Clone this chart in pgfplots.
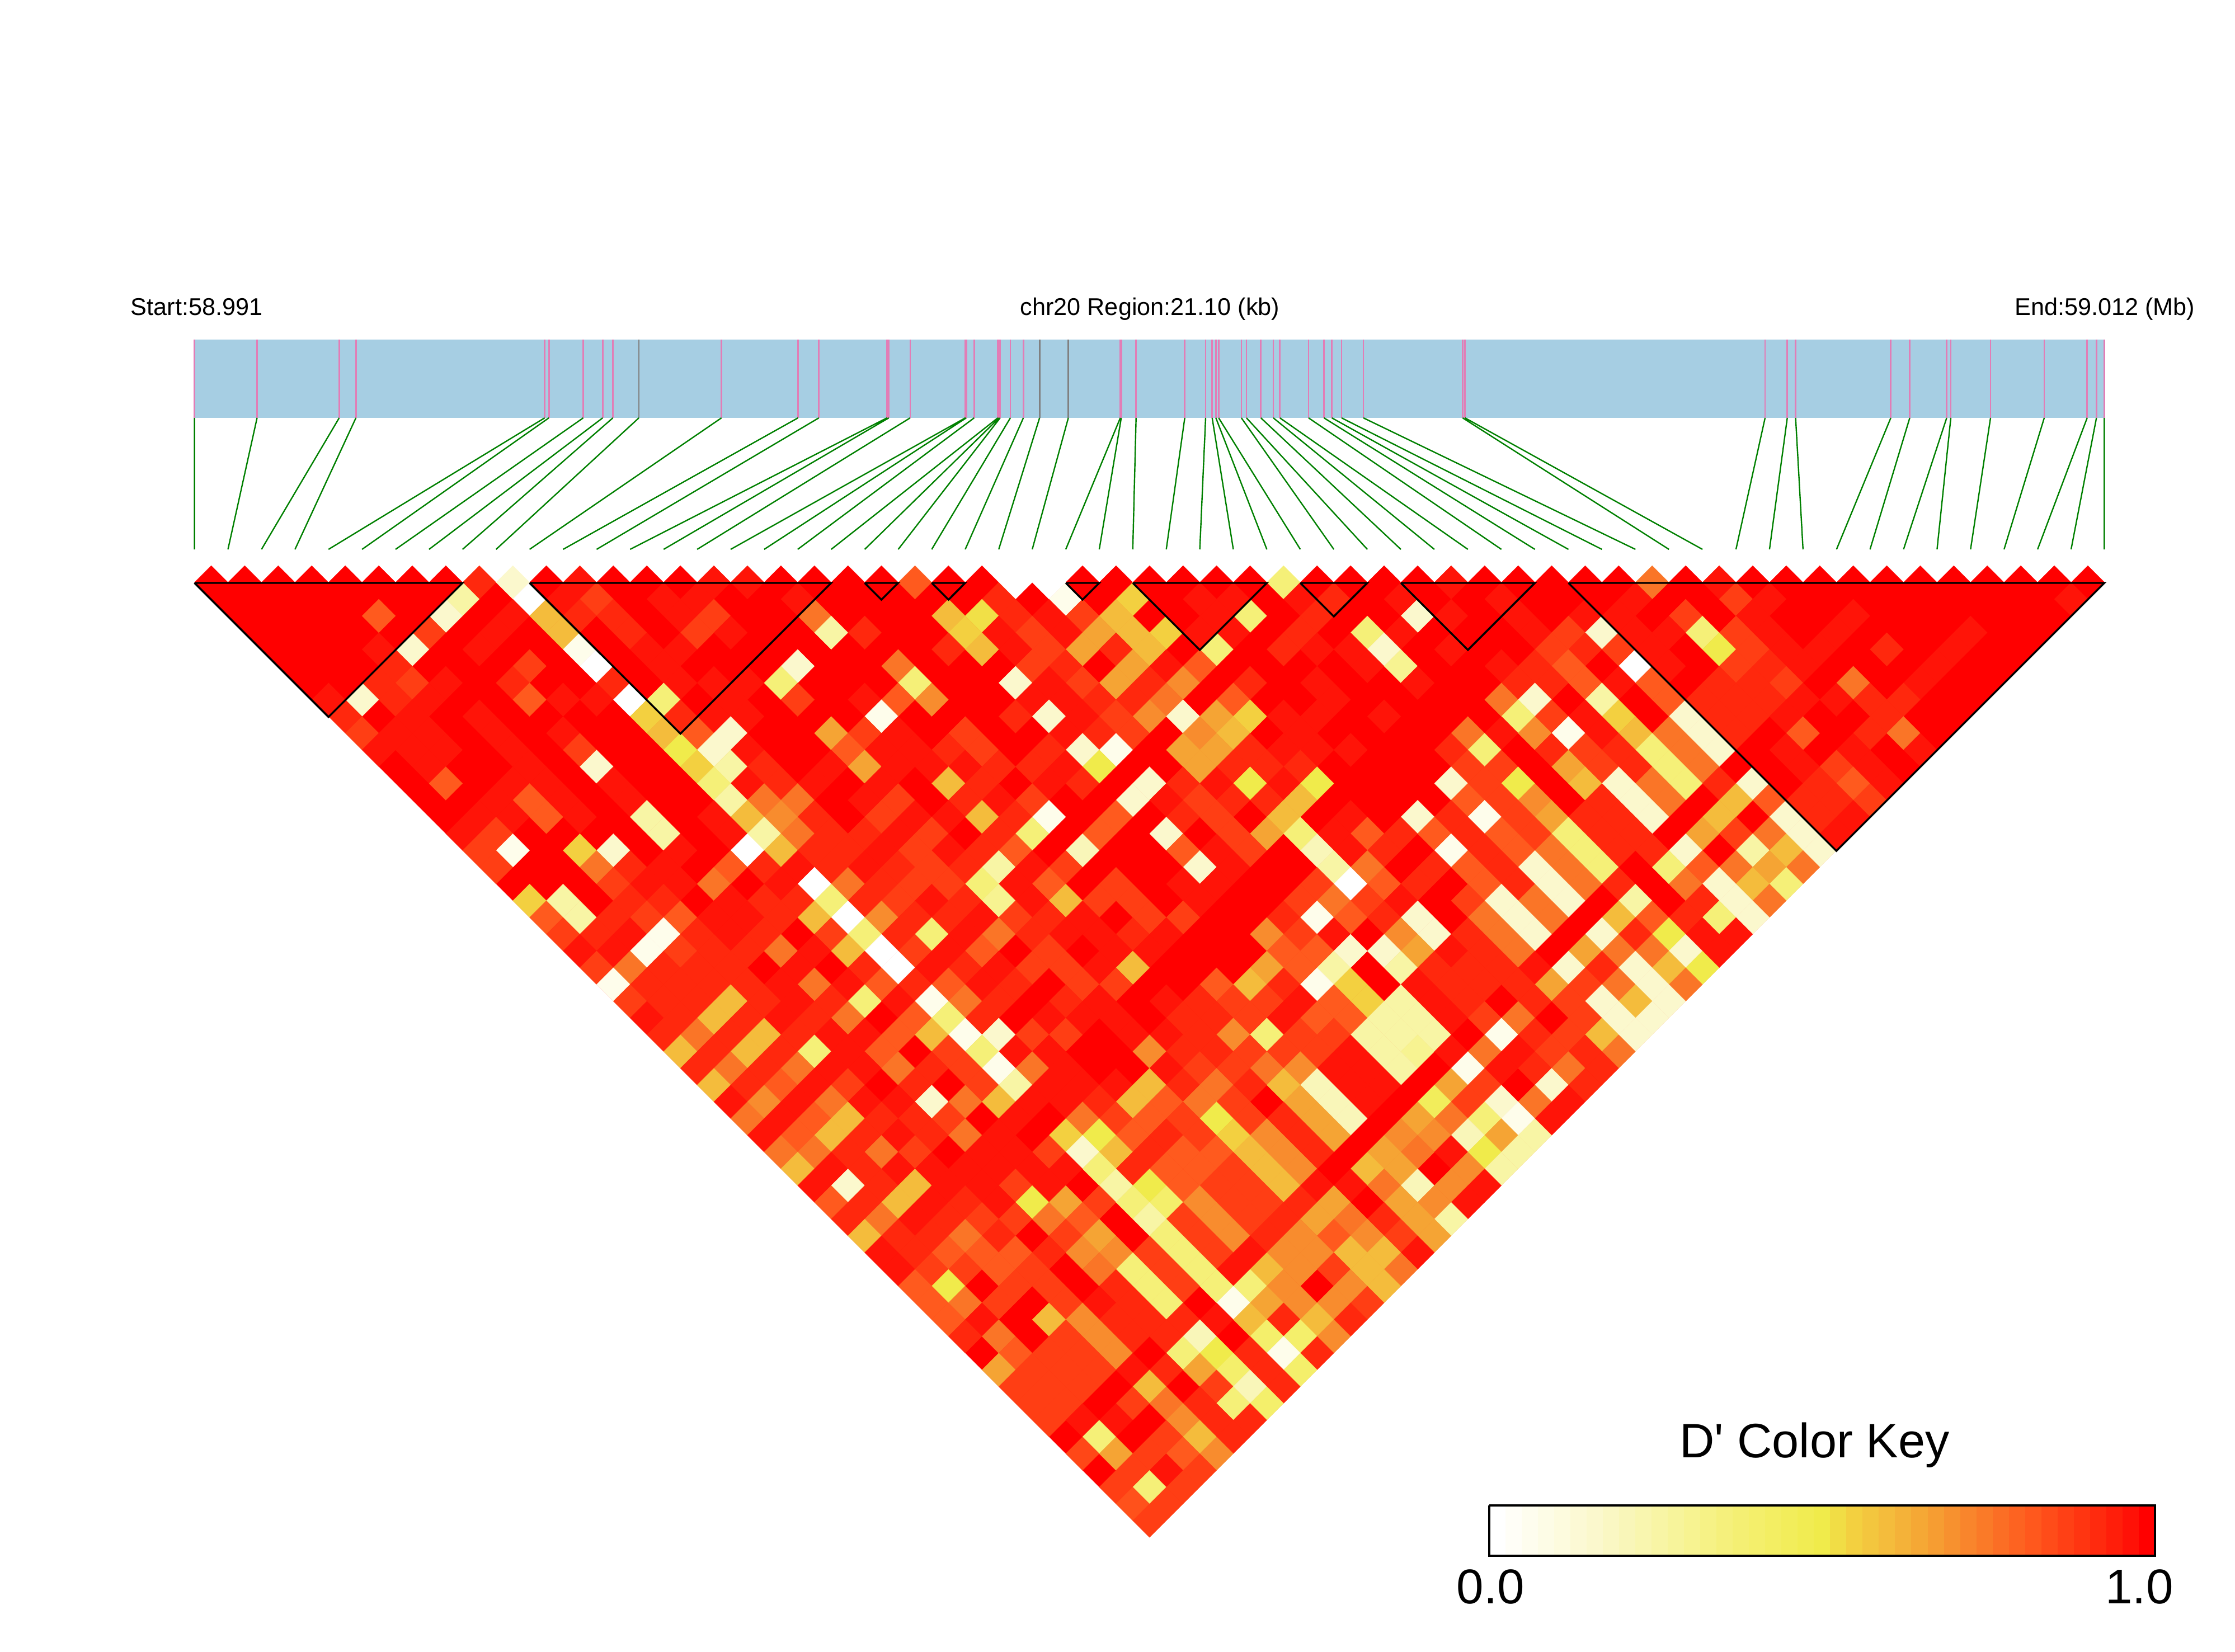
\documentclass[border=0pt]{standalone}
\usepackage{fontspec}
\setmainfont{Liberation Sans}
\usepackage{pgfplots}
\usepackage{pgfplotstable}
\pgfplotsset{compat=1.18}

\definecolor{genebar}{RGB}{166,206,227}
\definecolor{snptick}{RGB}{226,125,182}
\definecolor{snpgrey}{RGB}{128,128,128}
\definecolor{snpline}{RGB}{0,128,0}

% one picture pixel = 0.25pt, cell half diagonal 29.95 px
\pgfdeclareplotmark{ldcell}{%
  \pgfpathmoveto{\pgfqpoint{0pt}{7.49pt}}%
  \pgfpathlineto{\pgfqpoint{7.49pt}{0pt}}%
  \pgfpathlineto{\pgfqpoint{0pt}{-7.49pt}}%
  \pgfpathlineto{\pgfqpoint{-7.49pt}{0pt}}%
  \pgfpathclose\pgfusepathqfillstroke}
\pgfdeclareplotmark{keycell}{%
  \pgfpathrectanglecorners{\pgfqpoint{-3.65pt}{-11.25pt}}{\pgfqpoint{3.65pt}{11.25pt}}%
  \pgfusepathqfill}

% k = i+j of the SNP pair, r = j-i-1, v = D' in percent; cells left out are 100
\pgfplotstableread[row sep=\\]{
k r v\\
1 0 100\\ 3 0 100\\ 5 0 100\\ 7 0 100\\ 9 0 100\\ 11 0 100\\ 13 0 100\\ 15 0 100\\ 17 0 93\\ 19 0 15\\ 21 0 100\\ 23 0 97\\ 25 0 100\\ 27 0 100\\ 29 0 100\\ 31 0 97\\ 33 0 97\\ 35 0 100\\ 37 0 100\\ 39 0 100\\ 41 0 100\\ 43 0 82\\ 45 0 100\\ 47 0 100\\ 49 0 0\\ 51 0 0\\ 53 0 100\\ 55 0 100\\ 57 0 100\\ 59 0 100\\ 61 0 100\\ 63 0 100\\ 65 0 36\\ 67 0 100\\ 69 0 100\\ 71 0 100\\ 73 0 100\\ 75 0 97\\ 77 0 100\\ 79 0 100\\ 81 0 100\\ 83 0 100\\ 85 0 100\\ 87 0 76\\ 89 0 100\\ 91 0 97\\ 93 0 100\\ 95 0 100\\ 97 0 100\\ 99 0 100\\ 101 0 100\\ 103 0 100\\ 105 0 100\\ 107 0 100\\ 109 0 100\\ 111 0 100\\ 113 0 100\\
16 1 25\\ 20 1 0\\ 22 1 97\\ 24 1 88\\ 28 1 97\\ 30 1 97\\ 36 1 97\\ 48 1 93\\ 52 1 6\\ 56 1 55\\ 60 1 97\\ 62 1 97\\ 66 1 97\\ 68 1 93\\ 72 1 97\\ 78 1 97\\ 86 1 97\\ 92 1 88\\ 94 1 97\\ 112 1 97\\
11 2 82\\ 15 2 15\\ 19 2 97\\ 21 2 60\\ 23 2 93\\ 25 2 93\\ 29 2 97\\ 31 2 88\\ 37 2 76\\ 45 2 60\\ 47 2 52\\ 49 2 93\\ 51 2 97\\ 53 2 88\\ 55 2 60\\ 61 2 97\\ 63 2 36\\ 67 2 93\\ 73 2 15\\ 75 2 97\\ 79 2 97\\ 83 2 97\\ 85 2 97\\ 89 2 88\\ 93 2 97\\ 99 2 97\\
14 3 88\\ 18 3 97\\ 22 3 60\\ 26 3 93\\ 30 3 88\\ 32 3 97\\ 38 3 25\\ 40 3 93\\ 46 3 55\\ 48 3 97\\ 50 3 88\\ 52 3 97\\ 54 3 66\\ 56 3 60\\ 58 3 55\\ 60 3 97\\ 62 3 97\\ 66 3 93\\ 70 3 36\\ 72 3 97\\ 80 3 97\\ 82 3 88\\ 84 3 15\\ 86 3 97\\ 88 3 97\\ 90 3 36\\ 92 3 88\\ 94 3 97\\ 98 3 97\\ 106 3 97\\
11 4 97\\ 13 4 15\\ 17 4 97\\ 23 4 6\\ 27 4 97\\ 29 4 97\\ 45 4 93\\ 47 4 60\\ 49 4 97\\ 51 4 88\\ 53 4 66\\ 55 4 93\\ 57 4 60\\ 61 4 36\\ 65 4 93\\ 67 4 97\\ 69 4 97\\ 71 4 15\\ 75 4 97\\ 81 4 88\\ 83 4 93\\ 85 4 88\\ 87 4 97\\ 91 4 50\\ 93 4 88\\ 95 4 97\\ 97 4 97\\ 101 4 93\\ 105 4 97\\
12 5 93\\ 20 5 88\\ 24 5 0\\ 28 5 97\\ 36 5 15\\ 42 5 76\\ 50 5 88\\ 52 5 93\\ 56 5 66\\ 58 5 97\\ 60 5 82\\ 70 5 97\\ 72 5 30\\ 78 5 97\\ 80 5 93\\ 82 5 82\\ 86 5 0\\ 88 5 97\\ 92 5 88\\ 94 5 93\\ 96 5 97\\ 104 5 97\\
11 6 93\\ 13 6 88\\ 15 6 97\\ 19 6 93\\ 25 6 93\\ 29 6 97\\ 31 6 97\\ 33 6 97\\ 35 6 36\\ 43 6 36\\ 49 6 15\\ 51 6 97\\ 53 6 88\\ 55 6 66\\ 57 6 93\\ 59 6 71\\ 63 6 93\\ 67 6 97\\ 73 6 97\\ 79 6 93\\ 81 6 93\\ 83 6 82\\ 85 6 97\\ 87 6 82\\ 91 6 93\\ 93 6 93\\ 95 6 88\\ 99 6 76\\ 103 6 97\\
8 7 97\\ 10 7 15\\ 12 7 93\\ 14 7 97\\ 20 7 82\\ 22 7 97\\ 24 7 97\\ 26 7 0\\ 28 7 36\\ 32 7 97\\ 36 7 88\\ 40 7 97\\ 42 7 82\\ 44 7 71\\ 50 7 97\\ 52 7 97\\ 54 7 93\\ 56 7 93\\ 58 7 76\\ 62 7 82\\ 68 7 97\\ 78 7 76\\ 80 7 15\\ 84 7 25\\ 88 7 82\\ 90 7 93\\ 92 7 93\\ 94 7 93\\ 96 7 97\\ 98 7 97\\ 100 7 93\\ 102 7 93\\
9 8 93\\ 13 8 97\\ 17 8 97\\ 27 8 55\\ 29 8 93\\ 31 8 97\\ 33 8 97\\ 41 8 6\\ 49 8 93\\ 51 8 15\\ 53 8 97\\ 55 8 88\\ 57 8 71\\ 59 8 15\\ 61 8 66\\ 63 8 55\\ 65 8 97\\ 67 8 97\\ 71 8 97\\ 79 8 36\\ 81 8 88\\ 83 8 97\\ 85 8 55\\ 89 8 15\\ 91 8 93\\ 93 8 93\\ 95 8 97\\ 101 8 93\\
10 9 88\\ 12 9 97\\ 14 9 97\\ 18 9 97\\ 22 9 97\\ 28 9 60\\ 30 9 82\\ 32 9 15\\ 38 9 66\\ 40 9 88\\ 42 9 97\\ 46 9 88\\ 52 9 97\\ 54 9 93\\ 56 9 88\\ 60 9 71\\ 62 9 60\\ 66 9 97\\ 76 9 76\\ 78 9 97\\ 80 9 71\\ 82 9 6\\ 84 9 97\\ 86 9 60\\ 88 9 76\\ 90 9 15\\ 92 9 93\\ 96 9 82\\ 100 9 93\\ 102 9 76\\
11 10 97\\ 13 10 97\\ 15 10 97\\ 19 10 97\\ 23 10 88\\ 29 10 50\\ 31 10 15\\ 33 10 97\\ 39 10 82\\ 41 10 97\\ 43 10 97\\ 45 10 93\\ 47 10 88\\ 51 10 93\\ 53 10 15\\ 55 10 6\\ 59 10 66\\ 61 10 66\\ 63 10 93\\ 65 10 97\\ 67 10 97\\ 69 10 97\\ 75 10 93\\ 77 10 36\\ 81 10 93\\ 83 10 88\\ 85 10 93\\ 87 10 36\\ 89 10 76\\ 91 10 15\\ 95 10 97\\ 99 10 97\\ 103 10 97\\
14 11 97\\ 20 11 97\\ 24 11 15\\ 30 11 55\\ 32 11 25\\ 34 11 93\\ 38 11 97\\ 40 11 66\\ 42 11 97\\ 44 11 97\\ 46 11 97\\ 48 11 93\\ 50 11 93\\ 52 11 97\\ 54 11 50\\ 60 11 66\\ 62 11 93\\ 64 11 93\\ 66 11 93\\ 76 11 88\\ 78 11 88\\ 82 11 66\\ 84 11 88\\ 86 11 93\\ 88 11 36\\ 90 11 76\\ 96 11 97\\ 98 11 88\\ 100 11 97\\
15 12 82\\ 19 12 97\\ 21 12 97\\ 25 12 97\\ 31 12 36\\ 33 12 97\\ 35 12 93\\ 37 12 97\\ 41 12 97\\ 45 12 60\\ 47 12 93\\ 51 12 97\\ 53 12 93\\ 57 12 15\\ 59 12 93\\ 61 12 97\\ 63 12 50\\ 65 12 97\\ 67 12 50\\ 75 12 15\\ 77 12 88\\ 79 12 50\\ 83 12 60\\ 85 12 15\\ 87 12 76\\ 89 12 36\\ 91 12 93\\ 93 12 15\\ 97 12 93\\ 99 12 82\\ 101 12 97\\
18 13 97\\ 20 13 82\\ 22 13 97\\ 26 13 97\\ 32 13 25\\ 34 13 76\\ 36 13 76\\ 40 13 97\\ 42 13 88\\ 46 13 93\\ 48 13 97\\ 50 13 88\\ 56 13 15\\ 58 13 97\\ 60 13 88\\ 62 13 93\\ 64 13 93\\ 66 13 60\\ 76 13 82\\ 78 13 88\\ 80 13 71\\ 84 13 93\\ 86 13 15\\ 88 13 76\\ 92 13 60\\ 94 13 82\\ 96 13 93\\ 98 13 93\\ 100 13 88\\
17 14 97\\ 19 14 97\\ 21 14 82\\ 23 14 97\\ 27 14 25\\ 31 14 97\\ 33 14 60\\ 35 14 71\\ 37 14 93\\ 41 14 88\\ 43 14 97\\ 45 14 97\\ 47 14 60\\ 49 14 93\\ 51 14 6\\ 55 14 82\\ 59 14 93\\ 61 14 88\\ 65 14 60\\ 69 14 97\\ 73 14 15\\ 75 14 93\\ 77 14 6\\ 79 14 88\\ 81 14 66\\ 83 14 93\\ 85 14 93\\ 87 14 15\\ 91 14 60\\ 95 14 15\\ 97 14 93\\ 99 14 97\\
16 15 97\\ 18 15 88\\ 28 15 25\\ 32 15 97\\ 34 15 25\\ 36 15 76\\ 38 15 93\\ 40 15 93\\ 42 15 97\\ 44 15 88\\ 48 15 93\\ 50 15 36\\ 54 15 82\\ 58 15 15\\ 62 15 88\\ 64 15 66\\ 66 15 36\\ 68 15 97\\ 70 15 82\\ 72 15 93\\ 74 15 82\\ 76 15 93\\ 78 15 82\\ 80 15 88\\ 82 15 36\\ 84 15 93\\ 86 15 93\\ 90 15 66\\ 92 15 88\\ 94 15 76\\ 96 15 15\\ 98 15 97\\
17 16 88\\ 19 16 6\\ 23 16 55\\ 25 16 15\\ 29 16 97\\ 33 16 0\\ 35 16 60\\ 37 16 93\\ 39 16 93\\ 41 16 97\\ 43 16 88\\ 45 16 97\\ 47 16 93\\ 49 16 82\\ 53 16 20\\ 59 16 82\\ 61 16 97\\ 63 16 88\\ 67 16 20\\ 69 16 97\\ 71 16 93\\ 75 16 6\\ 77 16 93\\ 79 16 82\\ 81 16 76\\ 83 16 36\\ 85 16 93\\ 87 16 93\\ 89 16 15\\ 93 16 25\\ 95 16 60\\ 97 16 15\\
18 17 88\\ 24 17 76\\ 26 17 93\\ 28 17 97\\ 32 17 82\\ 34 17 93\\ 36 17 97\\ 38 17 93\\ 40 17 97\\ 42 17 93\\ 44 17 88\\ 46 17 93\\ 48 17 25\\ 50 17 97\\ 52 17 88\\ 60 17 15\\ 62 17 97\\ 68 17 25\\ 70 17 76\\ 74 17 93\\ 76 17 82\\ 78 17 93\\ 80 17 15\\ 82 17 76\\ 84 17 36\\ 88 17 36\\ 90 17 82\\ 92 17 76\\ 94 17 66\\ 96 17 76\\
25 18 88\\ 27 18 97\\ 29 18 97\\ 31 18 76\\ 35 18 97\\ 37 18 0\\ 39 18 76\\ 41 18 93\\ 43 18 88\\ 45 18 88\\ 47 18 36\\ 49 18 97\\ 51 18 82\\ 55 18 88\\ 59 18 97\\ 61 18 97\\ 67 18 88\\ 69 18 0\\ 71 18 82\\ 73 18 93\\ 77 18 82\\ 79 18 93\\ 81 18 15\\ 83 18 76\\ 85 18 93\\ 89 18 76\\ 91 18 15\\ 93 18 60\\ 95 18 36\\
20 19 55\\ 22 19 25\\ 26 19 93\\ 28 19 93\\ 32 19 97\\ 34 19 93\\ 36 19 93\\ 38 19 36\\ 40 19 93\\ 42 19 88\\ 44 19 97\\ 46 19 93\\ 48 19 30\\ 50 19 97\\ 52 19 60\\ 54 19 88\\ 56 19 88\\ 60 19 97\\ 66 19 88\\ 68 19 76\\ 70 19 88\\ 72 19 97\\ 76 19 88\\ 78 19 15\\ 80 19 76\\ 82 19 15\\ 86 19 25\\ 90 19 93\\ 92 19 15\\ 94 19 76\\
21 20 82\\ 23 20 25\\ 25 20 93\\ 27 20 88\\ 29 20 82\\ 31 20 97\\ 33 20 97\\ 35 20 93\\ 37 20 60\\ 39 20 0\\ 41 20 71\\ 43 20 93\\ 45 20 93\\ 47 20 97\\ 49 20 88\\ 51 20 93\\ 53 20 97\\ 57 20 88\\ 59 20 88\\ 65 20 93\\ 67 20 6\\ 69 20 82\\ 71 20 93\\ 73 20 15\\ 77 20 76\\ 79 20 15\\ 81 20 76\\ 85 20 60\\ 87 20 82\\ 89 20 93\\ 91 20 36\\ 93 20 15\\
22 21 88\\ 24 21 93\\ 26 21 97\\ 28 21 6\\ 30 21 93\\ 32 21 97\\ 34 21 93\\ 38 21 88\\ 40 21 36\\ 42 21 93\\ 44 21 36\\ 46 21 97\\ 48 21 76\\ 50 21 93\\ 52 21 97\\ 54 21 97\\ 56 21 93\\ 58 21 97\\ 64 21 71\\ 66 21 88\\ 68 21 97\\ 72 21 71\\ 74 21 15\\ 76 21 93\\ 78 21 76\\ 80 21 15\\ 84 21 15\\ 86 21 93\\ 88 21 50\\ 90 21 97\\ 92 21 97\\
23 22 97\\ 25 22 97\\ 27 22 6\\ 29 22 88\\ 31 22 93\\ 33 22 93\\ 35 22 76\\ 37 22 97\\ 39 22 60\\ 41 22 0\\ 43 22 88\\ 45 22 97\\ 47 22 82\\ 51 22 88\\ 55 22 97\\ 57 22 97\\ 65 22 82\\ 67 22 82\\ 69 22 15\\ 71 22 15\\ 73 22 66\\ 75 22 97\\ 77 22 93\\ 79 22 76\\ 83 22 66\\ 85 22 76\\ 87 22 76\\ 89 22 15\\ 91 22 97\\
24 23 88\\ 26 23 76\\ 28 23 93\\ 30 23 93\\ 32 23 93\\ 36 23 97\\ 40 23 93\\ 42 23 0\\ 44 23 97\\ 46 23 93\\ 48 23 97\\ 50 23 88\\ 52 23 88\\ 54 23 97\\ 56 23 60\\ 64 23 66\\ 66 23 82\\ 68 23 25\\ 72 23 25\\ 74 23 93\\ 76 23 93\\ 78 23 93\\ 80 23 97\\ 82 23 15\\ 84 23 93\\ 86 23 15\\ 88 23 60\\ 90 23 50\\
25 24 6\\ 27 24 93\\ 29 24 93\\ 31 24 93\\ 33 24 93\\ 35 24 97\\ 37 24 76\\ 39 24 97\\ 41 24 82\\ 43 24 93\\ 45 24 82\\ 47 24 97\\ 49 24 93\\ 53 24 88\\ 55 24 88\\ 61 24 82\\ 63 24 60\\ 65 24 93\\ 67 24 6\\ 69 24 55\\ 73 24 97\\ 75 24 93\\ 77 24 93\\ 79 24 93\\ 81 24 66\\ 83 24 88\\ 85 24 76\\ 87 24 15\\ 89 24 76\\
26 25 88\\ 28 25 93\\ 30 25 93\\ 32 25 60\\ 34 25 93\\ 36 25 97\\ 38 25 93\\ 40 25 36\\ 42 25 97\\ 44 25 6\\ 46 25 76\\ 48 25 93\\ 52 25 93\\ 54 25 97\\ 58 25 97\\ 60 25 93\\ 62 25 88\\ 64 25 88\\ 66 25 97\\ 68 25 82\\ 70 25 55\\ 72 25 25\\ 74 25 97\\ 76 25 93\\ 80 25 93\\ 82 25 88\\ 84 25 15\\ 86 25 60\\ 88 25 15\\
27 26 97\\ 29 26 93\\ 31 26 60\\ 33 26 93\\ 35 26 97\\ 37 26 93\\ 39 26 76\\ 43 26 82\\ 45 26 36\\ 47 26 93\\ 51 26 97\\ 53 26 97\\ 55 26 97\\ 59 26 93\\ 61 26 93\\ 63 26 88\\ 65 26 97\\ 67 26 82\\ 69 26 82\\ 71 26 25\\ 73 26 25\\ 75 26 97\\ 77 26 88\\ 79 26 76\\ 83 26 88\\ 85 26 15\\ 87 26 15\\
28 27 93\\ 30 27 76\\ 32 27 93\\ 34 27 60\\ 36 27 93\\ 38 27 97\\ 40 27 97\\ 42 27 82\\ 44 27 60\\ 46 27 6\\ 48 27 15\\ 50 27 88\\ 52 27 88\\ 56 27 97\\ 58 27 97\\ 60 27 93\\ 62 27 71\\ 64 27 36\\ 66 27 88\\ 68 27 88\\ 70 27 25\\ 72 27 25\\ 74 27 25\\ 78 27 6\\ 80 27 93\\ 82 27 88\\ 84 27 60\\ 86 27 15\\
29 28 60\\ 31 28 93\\ 33 28 60\\ 35 28 93\\ 37 28 36\\ 39 28 97\\ 41 28 82\\ 45 28 88\\ 47 28 36\\ 49 28 97\\ 51 28 97\\ 57 28 71\\ 59 28 93\\ 61 28 93\\ 63 28 88\\ 65 28 88\\ 67 28 88\\ 69 28 97\\ 71 28 25\\ 73 28 30\\ 75 28 97\\ 77 28 76\\ 79 28 97\\ 81 28 88\\ 83 28 93\\ 85 28 76\\
30 29 93\\ 32 29 76\\ 34 29 93\\ 36 29 76\\ 38 29 97\\ 40 29 97\\ 42 29 76\\ 44 29 93\\ 46 29 88\\ 48 29 6\\ 50 29 76\\ 52 29 97\\ 58 29 97\\ 60 29 88\\ 62 29 88\\ 64 29 76\\ 66 29 71\\ 68 29 97\\ 70 29 97\\ 72 29 25\\ 76 29 6\\ 78 29 97\\ 80 29 93\\ 82 29 76\\ 84 29 93\\
31 30 60\\ 33 30 93\\ 35 30 82\\ 37 30 97\\ 39 30 88\\ 43 30 93\\ 47 30 88\\ 49 30 25\\ 51 30 97\\ 53 30 97\\ 55 30 97\\ 57 30 60\\ 59 30 93\\ 61 30 76\\ 63 30 93\\ 65 30 60\\ 67 30 20\\ 69 30 97\\ 71 30 97\\ 75 30 66\\ 77 30 88\\ 81 30 15\\ 83 30 93\\
32 31 97\\ 34 31 71\\ 36 31 97\\ 38 31 76\\ 40 31 97\\ 42 31 97\\ 44 31 15\\ 46 31 76\\ 48 31 60\\ 50 31 97\\ 52 31 97\\ 54 31 93\\ 56 31 60\\ 58 31 82\\ 60 31 76\\ 62 31 88\\ 66 31 66\\ 68 31 20\\ 70 31 97\\ 74 31 45\\ 76 31 88\\ 78 31 15\\ 80 31 76\\ 82 31 97\\
33 32 76\\ 35 32 97\\ 37 32 82\\ 39 32 60\\ 41 32 93\\ 43 32 93\\ 45 32 88\\ 49 32 97\\ 53 32 76\\ 55 32 88\\ 57 32 82\\ 59 32 88\\ 61 32 50\\ 63 32 88\\ 65 32 93\\ 67 32 66\\ 69 32 20\\ 73 32 66\\ 75 32 76\\ 77 32 36\\ 79 32 6\\ 81 32 97\\
34 33 97\\ 36 33 82\\ 38 33 60\\ 40 33 93\\ 42 33 97\\ 44 33 93\\ 46 33 76\\ 48 33 97\\ 52 33 55\\ 54 33 50\\ 56 33 82\\ 58 33 93\\ 60 33 88\\ 62 33 55\\ 64 33 71\\ 66 33 93\\ 68 33 66\\ 72 33 71\\ 74 33 71\\ 76 33 20\\ 78 33 66\\ 80 33 25\\
35 34 76\\ 37 34 76\\ 39 34 93\\ 41 34 76\\ 43 34 88\\ 47 34 97\\ 49 34 97\\ 51 34 88\\ 53 34 15\\ 55 34 60\\ 57 34 93\\ 59 34 82\\ 61 34 82\\ 63 34 60\\ 65 34 71\\ 67 34 93\\ 71 34 66\\ 73 34 76\\ 75 34 97\\ 77 34 50\\ 79 34 25\\
36 35 60\\ 38 35 97\\ 40 35 93\\ 42 35 97\\ 44 35 97\\ 46 35 97\\ 48 35 97\\ 50 35 97\\ 52 35 97\\ 54 35 36\\ 56 35 93\\ 58 35 82\\ 60 35 82\\ 62 35 88\\ 64 35 60\\ 66 35 71\\ 70 35 60\\ 72 35 66\\ 76 35 71\\ 78 35 25\\
37 36 97\\ 39 36 15\\ 41 36 93\\ 43 36 60\\ 45 36 97\\ 47 36 97\\ 49 36 88\\ 51 36 97\\ 55 36 25\\ 57 36 50\\ 59 36 82\\ 61 36 88\\ 63 36 88\\ 65 36 60\\ 67 36 97\\ 69 36 97\\ 71 36 76\\ 73 36 20\\ 75 36 71\\ 77 36 97\\
38 37 82\\ 40 37 93\\ 42 37 60\\ 44 37 97\\ 46 37 93\\ 48 37 97\\ 50 37 50\\ 52 37 66\\ 54 37 88\\ 56 37 36\\ 58 37 40\\ 60 37 71\\ 62 37 88\\ 64 37 88\\ 66 37 93\\ 68 37 66\\ 72 37 66\\ 74 37 71\\ 76 37 97\\
39 38 93\\ 41 38 76\\ 43 38 97\\ 45 38 93\\ 47 38 88\\ 49 38 88\\ 51 38 76\\ 53 38 82\\ 57 38 25\\ 59 38 88\\ 61 38 71\\ 63 38 88\\ 65 38 93\\ 67 38 66\\ 69 38 76\\ 71 38 93\\ 73 38 66\\ 75 38 25\\
40 39 60\\ 42 39 93\\ 44 39 93\\ 46 39 76\\ 48 39 93\\ 52 39 88\\ 54 39 66\\ 58 39 36\\ 60 39 88\\ 62 39 71\\ 64 39 93\\ 66 39 71\\ 68 39 82\\ 70 39 71\\ 72 39 88\\ 74 39 66\\
41 40 97\\ 43 40 93\\ 45 40 82\\ 47 40 82\\ 49 40 82\\ 51 40 93\\ 53 40 71\\ 55 40 71\\ 57 40 88\\ 59 40 36\\ 61 40 88\\ 63 40 97\\ 65 40 71\\ 67 40 71\\ 69 40 60\\ 71 40 60\\ 73 40 97\\
42 41 97\\ 44 41 88\\ 46 41 88\\ 48 41 82\\ 50 41 88\\ 54 41 76\\ 56 41 36\\ 58 41 88\\ 60 41 36\\ 62 41 97\\ 64 41 60\\ 66 41 71\\ 68 41 88\\ 70 41 60\\ 72 41 76\\
43 42 82\\ 45 42 50\\ 49 42 88\\ 51 42 88\\ 55 42 93\\ 57 42 36\\ 59 42 88\\ 61 42 36\\ 63 42 36\\ 65 42 71\\ 69 42 71\\ 71 42 60\\
44 43 82\\ 46 43 76\\ 48 43 88\\ 52 43 88\\ 54 43 97\\ 56 43 93\\ 58 43 36\\ 62 43 6\\ 64 43 66\\ 66 43 71\\ 68 43 71\\ 70 43 88\\
45 44 82\\ 47 44 97\\ 51 44 60\\ 53 44 71\\ 55 44 93\\ 57 44 93\\ 59 44 93\\ 61 44 97\\ 63 44 60\\ 65 44 93\\ 67 44 60\\ 69 44 93\\
46 45 93\\ 48 45 76\\ 52 45 88\\ 54 45 71\\ 56 45 93\\ 58 45 93\\ 60 45 20\\ 64 45 40\\ 66 45 40\\ 68 45 71\\
49 46 82\\ 51 46 88\\ 53 46 88\\ 55 46 71\\ 59 46 36\\ 61 46 50\\ 63 46 93\\ 65 46 6\\ 67 46 93\\
48 47 66\\ 50 47 88\\ 52 47 88\\ 54 47 88\\ 56 47 97\\ 58 47 93\\ 60 47 66\\ 62 47 40\\ 64 47 93\\ 66 47 40\\
49 48 88\\ 51 48 88\\ 53 48 88\\ 57 48 60\\ 61 48 88\\ 63 48 20\\ 65 48 93\\
50 49 88\\ 52 49 88\\ 56 49 88\\ 58 49 76\\ 60 49 93\\ 62 49 36\\ 64 49 40\\
51 50 88\\ 53 50 97\\ 55 50 97\\ 59 50 71\\ 61 50 93\\ 63 50 93\\
54 51 36\\ 58 51 88\\ 60 51 60\\ 62 51 93\\
53 52 86\\ 55 52 66\\ 57 52 88\\ 59 52 82\\ 61 52 71\\
56 53 88\\ 58 53 97\\ 60 53 88\\
55 54 88\\ 57 54 36\\ 59 54 88\\
56 55 84\\ 58 55 88\\
57 56 88\\
}\ldcells

% the steps of the colour key
\pgfplotstableread[row sep=\\]{
x v\\
2676.5 0\\ 2705.5 2.5\\ 2734.5 5\\ 2763.6 7.5\\ 2792.6 10\\ 2821.6 12.5\\ 2850.6 15\\ 2879.7 17.5\\ 2908.7 20\\ 2937.7 22.5\\ 2966.7 25\\ 2995.7 27.5\\ 3024.8 30\\ 3053.8 32.5\\ 3082.8 35\\ 3111.8 37.5\\ 3140.8 40\\ 3169.9 42.5\\ 3198.9 45\\ 3227.9 47.5\\ 3256.9 50\\ 3285.9 52.5\\ 3315 55\\ 3344 57.5\\ 3373 60\\ 3402 62.5\\ 3431 65\\ 3460.1 67.5\\ 3489.1 70\\ 3518.1 72.5\\ 3547.1 75\\ 3576.1 77.5\\ 3605.2 80\\ 3634.2 82.5\\ 3663.2 85\\ 3692.2 87.5\\ 3721.2 90\\ 3750.3 92.5\\ 3779.3 95\\ 3808.3 97.5\\ 3837.3 100\\
}\keysteps

\begin{document}
\begin{tikzpicture}
\begin{axis}[
    scale only axis,
    width=998.75pt,
    height=738.25pt,
    xmin=0, xmax=3995,
    ymin=0, ymax=2953,
    y dir=reverse,
    axis lines=none,
    clip=false,
    clip marker paths=true,
    unbounded coords=jump,
    point meta min=0,
    point meta max=100,
    colormap={dprime}{
        rgb255(0)=(255,255,255) rgb255(6)=(254,253,235) rgb255(15)=(251,248,205)
        rgb255(25)=(248,245,165) rgb255(36)=(245,240,120) rgb255(50)=(240,235,75)
        rgb255(55)=(243,208,64) rgb255(60)=(244,188,60) rgb255(66)=(245,164,52)
        rgb255(71)=(248,140,46) rgb255(76)=(250,117,39) rgb255(82)=(255,90,30)
        rgb255(88)=(255,62,20) rgb255(93)=(255,40,13) rgb255(97)=(255,20,8)
        rgb255(100)=(255,0,0)
    },
]
\addplot[draw=none, forget plot] coordinates {(0,0) (3995,2953)};

% gene bar and SNP ticks
\addplot[fill=genebar, draw=none] coordinates {(347.6,607.5) (3761.5,607.5) (3761.5,747) (347.6,747)} -- cycle;
\addplot[snptick, line width=0.7pt] coordinates {
(347.6,607)(347.6,747)(nan,nan)(459.5,607)(459.5,747)(nan,nan)(606.3,607)(606.3,747)(nan,nan)(636.2,607)(636.2,747)(nan,nan)
(973.6,607)(973.6,747)(nan,nan)(981.1,607)(981.1,747)(nan,nan)(1042.5,607)(1042.5,747)(nan,nan)(1077.3,607)(1077.3,747)(nan,nan)
(1095.5,607)(1095.5,747)(nan,nan)(1289.6,607)(1289.6,747)(nan,nan)(1426.4,607)(1426.4,747)(nan,nan)(1463.7,607)(1463.7,747)(nan,nan)
(1585.4,607)(1585.4,747)(nan,nan)(1588.7,607)(1588.7,747)(nan,nan)(1626.9,607)(1626.9,747)(nan,nan)(1725.5,607)(1725.5,747)(nan,nan)
(1727.2,607)(1727.2,747)(nan,nan)(1741.3,607)(1741.3,747)(nan,nan)(1783.6,607)(1783.6,747)(nan,nan)(1786,607)(1786,747)(nan,nan)
(1787.7,607)(1787.7,747)(nan,nan)(1806,607)(1806,747)(nan,nan)(1829.2,607)(1829.2,747)(nan,nan)(2002.5,607)(2002.5,747)(nan,nan)
(2004.2,607)(2004.2,747)(nan,nan)(2030.7,607)(2030.7,747)(nan,nan)(2117.7,607)(2117.7,747)(nan,nan)(2155,607)(2155,747)(nan,nan)
(2166.7,607)(2166.7,747)(nan,nan)(2173.3,607)(2173.3,747)(nan,nan)(2178.3,607)(2178.3,747)(nan,nan)(2218.9,607)(2218.9,747)(nan,nan)
(2228,607)(2228,747)(nan,nan)(2253.7,607)(2253.7,747)(nan,nan)(2276,607)(2276,747)(nan,nan)(2287.7,607)(2287.7,747)(nan,nan)
(2339,607)(2339,747)(nan,nan)(2366.5,607)(2366.5,747)(nan,nan)(2380.6,607)(2380.6,747)(nan,nan)(2398,607)(2398,747)(nan,nan)
(2437,607)(2437,747)(nan,nan)(2614.4,607)(2614.4,747)(nan,nan)(2618.6,607)(2618.6,747)(nan,nan)(3155,607)(3155,747)(nan,nan)
(3194.7,607)(3194.7,747)(nan,nan)(3209.6,607)(3209.6,747)(nan,nan)(3379.7,607)(3379.7,747)(nan,nan)(3413.6,607)(3413.6,747)(nan,nan)
(3479.6,607)(3479.6,747)(nan,nan)(3487,607)(3487,747)(nan,nan)(3558,607)(3558,747)(nan,nan)(3654,607)(3654,747)(nan,nan)
(3730.7,607)(3730.7,747)(nan,nan)(3747.3,607)(3747.3,747)(nan,nan)(3761.3,607)(3761.3,747)
};
\addplot[snpgrey, line width=0.7pt] coordinates {
(1142,607)(1142,747)(nan,nan)(1858.2,607)(1858.2,747)(nan,nan)(1909.6,607)(1909.6,747)
};

% lines from the SNP positions down to the matrix
\addplot[snpline, line width=0.6pt] coordinates {
(347.6,747)(347.6,982)(nan,nan)(459.5,747)(407.5,982)(nan,nan)(606.3,747)(467.4,982)(nan,nan)(636.2,747)(527.3,982)(nan,nan)
(973.6,747)(587.2,982)(nan,nan)(981.1,747)(647.1,982)(nan,nan)(1042.5,747)(707,982)(nan,nan)(1077.3,747)(766.9,982)(nan,nan)
(1095.5,747)(826.8,982)(nan,nan)(1142,747)(886.7,982)(nan,nan)(1289.6,747)(946.6,982)(nan,nan)(1426.4,747)(1006.5,982)(nan,nan)
(1463.7,747)(1066.4,982)(nan,nan)(1585.4,747)(1126.3,982)(nan,nan)(1588.7,747)(1186.2,982)(nan,nan)(1626.9,747)(1246.1,982)(nan,nan)
(1725.5,747)(1306,982)(nan,nan)(1727.2,747)(1365.9,982)(nan,nan)(1741.3,747)(1425.8,982)(nan,nan)(1783.6,747)(1485.7,982)(nan,nan)
(1786,747)(1545.6,982)(nan,nan)(1787.7,747)(1605.5,982)(nan,nan)(1806,747)(1665.4,982)(nan,nan)(1829.2,747)(1725.3,982)(nan,nan)
(1858.2,747)(1785.2,982)(nan,nan)(1909.6,747)(1845.1,982)(nan,nan)(2002.5,747)(1905,982)(nan,nan)(2004.2,747)(1964.9,982)(nan,nan)
(2030.7,747)(2024.8,982)(nan,nan)(2117.7,747)(2084.7,982)(nan,nan)(2155,747)(2144.6,982)(nan,nan)(2166.7,747)(2204.5,982)(nan,nan)
(2173.3,747)(2264.4,982)(nan,nan)(2178.3,747)(2324.3,982)(nan,nan)(2218.9,747)(2384.2,982)(nan,nan)(2228,747)(2444.1,982)(nan,nan)
(2253.7,747)(2504,982)(nan,nan)(2276,747)(2563.9,982)(nan,nan)(2287.7,747)(2623.8,982)(nan,nan)(2339,747)(2683.7,982)(nan,nan)
(2366.5,747)(2743.6,982)(nan,nan)(2380.6,747)(2803.5,982)(nan,nan)(2398,747)(2863.4,982)(nan,nan)(2437,747)(2923.3,982)(nan,nan)
(2614.4,747)(2983.2,982)(nan,nan)(2618.6,747)(3043.1,982)(nan,nan)(3155,747)(3103,982)(nan,nan)(3194.7,747)(3162.9,982)(nan,nan)
(3209.6,747)(3222.8,982)(nan,nan)(3379.7,747)(3282.7,982)(nan,nan)(3413.6,747)(3342.6,982)(nan,nan)(3479.6,747)(3402.5,982)(nan,nan)
(3487,747)(3462.4,982)(nan,nan)(3558,747)(3522.3,982)(nan,nan)(3654,747)(3582.2,982)(nan,nan)(3730.7,747)(3642.1,982)(nan,nan)
(3747.3,747)(3702,982)(nan,nan)(3761.3,747)(3761.3,982)
};

% red base of the matrix, then every cell that is not pure red or sits on the top row
\addplot[fill=red, draw=none] coordinates {(347.6,1041) (3761.5,1041) (2054.6,2748)} -- cycle;
\addplot[scatter, only marks, mark=ldcell,
    scatter src=explicit,
    scatter/use mapped color={draw=mapped color, fill=mapped color},
    mark options={line width=0.05pt}]
    table[x expr=347.6+29.95*\thisrow{k}, y expr=1041+29.95*\thisrow{r}, meta=v] {\ldcells};

% haplotype blocks
\addplot[black, line width=0.85pt, line join=miter] coordinates {
(347.6,1042)(826.8,1042)(587.2,1281.6)(347.6,1042)(nan,nan)
(946.6,1042)(1485.7,1042)(1216.2,1311.5)(946.6,1042)(nan,nan)
(1545.6,1042)(1605.5,1042)(1575.5,1072)(1545.6,1042)(nan,nan)
(1665.4,1042)(1725.3,1042)(1695.4,1072)(1665.4,1042)(nan,nan)
(1905,1042)(1964.9,1042)(1935,1072)(1905,1042)(nan,nan)
(2024.8,1042)(2264.4,1042)(2144.6,1161.8)(2024.8,1042)(nan,nan)
(2324.3,1042)(2444.1,1042)(2384.2,1101.9)(2324.3,1042)(nan,nan)
(2504,1042)(2743.6,1042)(2623.8,1161.8)(2504,1042)(nan,nan)
(2803.5,1042)(3761.5,1042)(3282.5,1521)(2803.5,1042)
};

% colour key
\addplot[scatter, only marks, mark=keycell,
    scatter src=explicit,
    scatter/use mapped color={draw=none, fill=mapped color}]
    table[x=x, y expr=2736, meta=v] {\keysteps};
\addplot[black, line width=0.9pt] coordinates {(2662,2691)(3852,2691)(3852,2781)(2662,2781)(2662,2691)};

\node[anchor=base west, inner sep=0pt, font=\fontsize{10.8}{13}\selectfont] at (axis cs:233,564) {Start:58.991};
\node[anchor=base, inner sep=0pt, font=\fontsize{10.8}{13}\selectfont] at (axis cs:2055.5,564) {chr20 Region:21.10 (kb)};
\node[anchor=base east, inner sep=0pt, font=\fontsize{10.8}{13}\selectfont] at (axis cs:3924,564) {End:59.012 (Mb)};
\node[anchor=base, inner sep=0pt, font=\fontsize{21.6}{26}\selectfont] at (axis cs:3243.7,2605) {D\textquotesingle{} Color Key};
\node[anchor=base, inner sep=0pt, font=\fontsize{21.8}{26}\selectfont] at (axis cs:2664.5,2866) {0.0};
\node[anchor=base, inner sep=0pt, font=\fontsize{21.8}{26}\selectfont] at (axis cs:3824,2866) {1.0};
\end{axis}
\end{tikzpicture}
\end{document}
